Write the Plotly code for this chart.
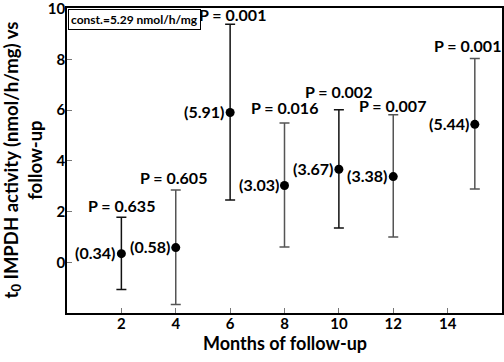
import plotly.graph_objects as go

months = [2, 4, 6, 8, 10, 12, 15]
values = [0.34, 0.58, 5.91, 3.03, 3.67, 3.38, 5.44]
upper = [1.78, 2.85, 9.39, 5.49, 6.02, 5.82, 8.04]
lower = [-1.07, -1.66, 2.46, 0.60, 1.35, 1.00, 2.89]
pvals = ["0.635", "0.605", "0.001", "0.016", "0.002", "0.007", "0.001"]
bar_colors = ["#111111", "#555555", "#111111", "#555555", "#111111", "#555555", "#555555"]
xticks = [2, 4, 6, 8, 10, 12, 14]
yticks = [0, 2, 4, 6, 8, 10]

# label placement tweaks (pixels)
p_dx = [0, -2, 2, 0, 0, -1, -7]
p_dy = [0, 1, -2, 4, 7, -2, 1]

FONT = "Lato"
fig = go.Figure()

for m, v, u, l, c in zip(months, values, upper, lower, bar_colors):
    fig.add_trace(go.Scatter(
        x=[m], y=[v], mode="markers",
        marker=dict(color="black", size=9),
        error_y=dict(type="data", symmetric=False, array=[u - v], arrayminus=[v - l],
                     color=c, thickness=1.5, width=5),
        showlegend=False, hoverinfo="skip"))

annotations = []
for m, v, u, p, dx, dy in zip(months, values, upper, pvals, p_dx, p_dy):
    annotations.append(dict(x=m, y=u, xref="x", yref="y", text="<b>P = %s</b>" % p,
                            showarrow=False, yanchor="bottom", xshift=dx, yshift=dy,
                            font=dict(family=FONT, size=16, color="black")))
    annotations.append(dict(x=m, y=v, xref="x", yref="y", text="<b>(%.2f)</b>" % v,
                            showarrow=False, xanchor="right", xshift=-4, yshift=1,
                            font=dict(family=FONT, size=16, color="black")))

annotations.append(dict(x=0.003, y=0.997, xref="paper", yref="paper", xanchor="left", yanchor="top",
                        text="<b>const.=5.29 nmol/h/mg</b>", showarrow=False,
                        bordercolor="black", borderwidth=1, borderpad=2, bgcolor="white",
                        font=dict(family=FONT, size=12, color="black")))

# axis titles
annotations.append(dict(x=0.5, y=0, xref="paper", yref="paper", xanchor="center", yanchor="top",
                        yshift=-17, showarrow=False, text="<b>Months of follow-up</b>",
                        font=dict(family=FONT, size=18, color="black")))
annotations.append(dict(x=0, y=0.5, xref="paper", yref="paper", xanchor="right", yanchor="middle",
                        xshift=-20, showarrow=False, textangle=-90,
                        text="<b>t<sub>0</sub> IMPDH activity (nmol/h/mg) vs<br>follow-up</b>",
                        font=dict(family=FONT, size=18.5, color="black")))

fig.update_layout(
    width=504, height=362,
    margin=dict(l=67, r=2, t=8, b=49, autoexpand=False),
    plot_bgcolor="white", paper_bgcolor="white",
    font=dict(family=FONT, color="black"),
    annotations=annotations,
    xaxis=dict(range=[0, 16], tickvals=xticks, ticktext=["<b>%d</b>" % t for t in xticks],
               ticks="inside", ticklen=5, tickcolor="#777",
               showgrid=False, zeroline=False, showline=True, linecolor="black", linewidth=1.5,
               mirror=True, automargin=False, ticklabeloverflow="allow", ticklabelstandoff=-4,
               tickfont=dict(family=FONT, size=15, color="black")),
    yaxis=dict(range=[-2, 10.03], tickvals=yticks, ticktext=["<b>%d</b>" % t for t in yticks],
               ticks="inside", ticklen=5, tickcolor="#777",
               showgrid=False, zeroline=False, showline=True, linecolor="black", linewidth=1.5,
               mirror=True, automargin=False, ticklabeloverflow="allow", ticklabelstandoff=-3,
               tickfont=dict(family=FONT, size=15, color="black")),
)

fig.write_html("out.html", config={"displayModeBar": False},
               post_script="document.body.style.margin='0';")
